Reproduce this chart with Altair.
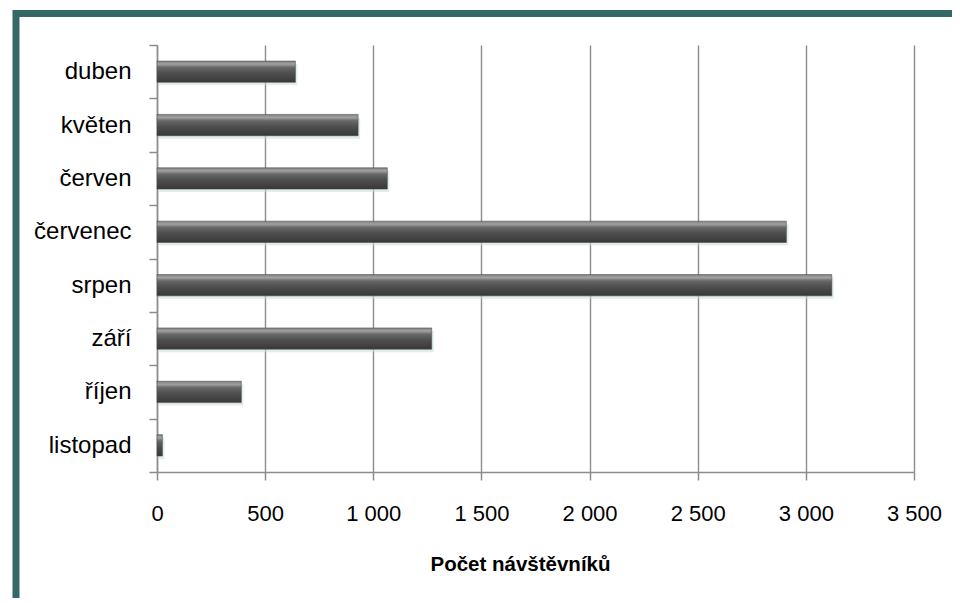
import altair as alt
import pandas as pd

# Data
months = ["duben", "květen", "červen", "červenec", "srpen", "září", "říjen", "listopad"]
visitors = [640, 930, 1065, 2910, 3120, 1270, 390, 25]
x_ticks = [0, 500, 1000, 1500, 2000, 2500, 3000, 3500]
x_title = "Počet návštěvníků"

df = pd.DataFrame({"mesic": months, "pocet": visitors})

W, H = 757, 427
GRID = "#8c8c8c"
FRAME = "#336866"
FONT = "Liberation Sans"

bar_grad = alt.Gradient(
    gradient="linear",
    x1=0, x2=0, y1=0, y2=1,
    stops=[
        alt.GradientStop(offset=0.0, color="#7c7c7c"),
        alt.GradientStop(offset=0.14, color="#a2a2a2"),
        alt.GradientStop(offset=0.3, color="#686868"),
        alt.GradientStop(offset=0.55, color="#505050"),
        alt.GradientStop(offset=1.0, color="#383838"),
    ],
)

y_enc = alt.Y(
    "mesic:N",
    sort=months,
    scale=alt.Scale(paddingInner=0, paddingOuter=0),
    axis=alt.Axis(
        title=None,
        tickBand="extent",
        ticks=True,
        tickSize=8,
        tickColor=GRID,
        tickWidth=1.5,
        domainColor=GRID,
        domainWidth=1.5,
        grid=False,
        labelFont=FONT,
        labelFontSize=24,
        labelColor="#000000",
        labelPadding=18,
        labelExpr="datum.value == 'říjen' ? 'říjen\u00a0' : datum.value",
    ),
)

x_enc = alt.X(
    "pocet:Q",
    scale=alt.Scale(domain=[0, 3500], nice=False),
    axis=alt.Axis(
        values=x_ticks,
        title=x_title,
        titleFont=FONT,
        titleFontSize=20.5,
        titleFontWeight="bold",
        titleColor="#000000",
        titleBaseline="alphabetic",
        titleAlign="center",
        titleX=363,
        titleY=98,
        grid=True,
        gridColor=GRID,
        gridWidth=1.4,
        tickSize=8,
        tickColor=GRID,
        tickWidth=1.5,
        domainColor=GRID,
        domainWidth=1.5,
        labelFont=FONT,
        labelFontSize=22,
        labelColor="#000000",
        labelPadding=23,
        labelExpr="replace(format(datum.value, ','), ',', ' ')",
        labelFlush=False,
    ),
)

shadow = alt.Chart(df).mark_bar(
    color="#c9dcdc", opacity=0.55, yOffset=3, xOffset=2, height={"band": 0.4}
).encode(x=x_enc, y=y_enc)

bars = alt.Chart(df).mark_bar(
    color=bar_grad, stroke="#444444", strokeWidth=0.5, height={"band": 0.4}
).encode(x=x_enc, y=y_enc)

frame = alt.Chart(pd.DataFrame({"f": [0]})).mark_rect(
    fill=None, fillOpacity=0, stroke=FRAME, strokeWidth=7
).encode(
    x=alt.value(-141),
    x2=alt.value(900),
    y=alt.value(-31.5),
    y2=alt.value(700),
)

chart = (
    alt.layer(shadow, bars, frame)
    .properties(
        width=W,
        height=H,
        autosize=alt.AutoSizeParams(type="none"),
        padding={"left": 149, "top": 37, "right": 38, "bottom": 126},
        background="#ffffff",
    )
    .configure_view(stroke=None)
)

chart.save("out.html", embed_options={"renderer": "svg", "actions": False})
